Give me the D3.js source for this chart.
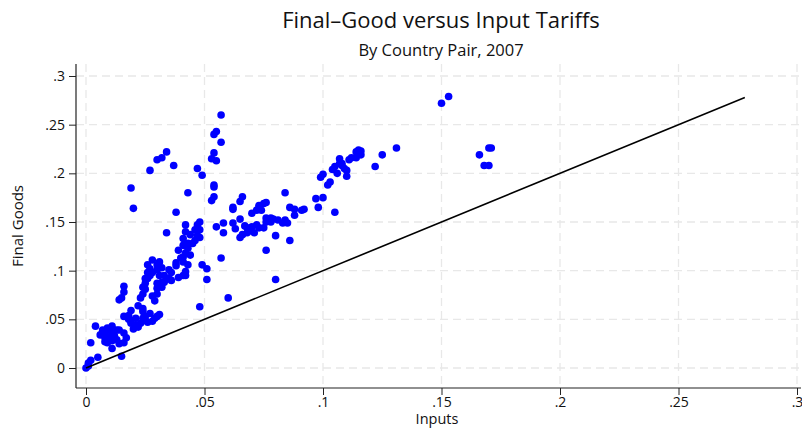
<!DOCTYPE html>
<html><head><meta charset="utf-8">
<script src="https://cdn.jsdelivr.net/npm/d3@7"></script>
<style>body{margin:0;background:#fff}svg{display:block}text{font-family:"Open Sans","Noto Sans",sans-serif;fill:#111}</style>
</head><body><div id="chart"></div>
<script>
const title = "Final\u2013Good versus Input Tariffs";
const subtitle = "By Country Pair, 2007";
const xLabel = "Inputs";
const yLabel = "Final Goods";
const xTicks = [0, .05, .1, .15, .2, .25, .3];
const yTicks = [0, .05, .1, .15, .2, .25, .3];
const xTickLabels = ["0", ".05", ".1", ".15", ".2", ".25", ".3"];
const yTickLabels = ["0", ".05", ".1", ".15", ".2", ".25", ".3"];
const refLine = [[0, 0], [0.278, 0.278]];
const inputs = [
0.000,0.001,0.001,0.002,0.002,0.004,0.005,0.007,0.008,0.008,0.008,0.008,0.009,0.010,0.011,0.011,0.011,0.013,0.013,0.014,0.015,0.016,0.017,0.010,0.011,
0.014,0.015,0.016,0.016,0.016,0.018,0.019,0.020,0.022,0.023,0.025,0.026,0.028,0.029,0.030,0.031,0.021,0.018,0.019,
0.022,0.024,0.024,0.023,0.024,0.024,0.025,0.025,0.026,0.026,0.027,0.028,0.028,0.026,0.027,0.030,0.030,0.030,0.031,0.032,0.033,0.032,0.033,0.035,0.036,0.035,
0.038,0.039,0.041,0.041,0.042,0.041,0.041,0.043,0.044,0.034,0.042,0.047,0.048,0.046,0.047,0.045,0.048,0.041,0.042,0.042,0.048,0.049,0.051,0.051,0.057,0.060,
0.038,0.043,0.019,0.020,0.027,0.030,0.032,0.034,0.037,0.047,0.049,0.054,0.054,0.053,0.054,0.054,0.053,0.055,0.054,0.055,0.057,0.057,0.043,
0.055,0.058,0.058,0.062,0.065,0.062,0.062,0.066,0.065,0.070,0.073,0.073,0.075,0.076,0.072,0.084,0.086,0.088,0.088,0.091,
0.065,0.066,0.068,0.069,0.070,0.072,0.073,0.075,0.076,0.076,0.078,0.079,0.080,0.083,0.084,0.085,0.086,0.076,0.080,0.071,0.068,
0.092,0.097,0.100,0.098,0.105,0.099,0.100,0.103,0.104,0.105,0.107,0.107,0.108,0.109,0.106,0.110,0.112,0.114,0.115,0.116,0.114,0.108,0.122,0.125,0.131,0.116,
0.150,0.153,0.166,0.170,0.171,0.168,0.170,
0.006,0.009,0.012,0.014,0.016,0.019,0.021,0.024,0.025,0.027,0.029,0.028,0.030,0.025,0.030,0.031,0.032,0.038,0.040,0.043,0.044,0.039,0.036,0.046,0.042,0.048,
0.078,0.081,0.067,0.063,0.074,0.111,0.110,0.102
];
const finalGoods = [
0.000,0.002,0.005,0.008,0.026,0.043,0.011,0.039,0.037,0.031,0.034,0.027,0.026,0.032,0.020,0.043,0.036,0.039,0.029,0.039,0.012,0.026,0.031,0.039,0.028,
0.070,0.072,0.084,0.078,0.053,0.050,0.046,0.040,0.042,0.046,0.049,0.047,0.048,0.051,0.053,0.055,0.044,0.054,0.059,
0.064,0.061,0.058,0.072,0.076,0.083,0.087,0.081,0.092,0.098,0.095,0.098,0.111,0.106,0.102,0.076,0.082,0.101,0.095,0.088,0.088,0.083,0.095,0.101,0.098,0.092,
0.108,0.121,0.114,0.109,0.118,0.133,0.126,0.128,0.137,0.139,0.147,0.147,0.150,0.131,0.136,0.128,0.142,0.095,0.099,0.095,0.063,0.106,0.102,0.091,0.113,0.072,
0.160,0.180,0.185,0.164,0.203,0.214,0.216,0.222,0.208,0.205,0.198,0.188,0.186,0.172,0.176,0.221,0.215,0.213,0.240,0.243,0.232,0.260,0.123,
0.145,0.149,0.139,0.149,0.153,0.165,0.163,0.176,0.171,0.159,0.165,0.167,0.169,0.170,0.162,0.180,0.165,0.163,0.157,0.162,
0.134,0.137,0.139,0.141,0.145,0.147,0.144,0.144,0.154,0.150,0.154,0.153,0.136,0.149,0.152,0.149,0.131,0.121,0.091,0.139,0.144,
0.163,0.174,0.175,0.165,0.160,0.196,0.199,0.191,0.204,0.207,0.215,0.210,0.210,0.205,0.200,0.197,0.216,0.222,0.224,0.223,0.216,0.208,0.207,0.219,0.226,0.219,
0.272,0.279,0.219,0.226,0.226,0.208,0.208,
0.034,0.041,0.033,0.025,0.036,0.049,0.051,0.051,0.053,0.056,0.069,0.074,0.087,0.092,0.106,0.109,0.103,0.105,0.113,0.106,0.116,0.093,0.090,0.142,0.140,0.134,
0.150,0.152,0.146,0.143,0.162,0.214,0.203,0.188
];
const points = inputs.map((v, i) => ({x: v, y: finalGoods[i]}));

const W = 802, H = 429;
const svg = d3.select("#chart").append("svg").attr("width", W).attr("height", H);
const x = d3.scaleLinear().domain([0, 0.3]).range([86, 797]);
const y = d3.scaleLinear().domain([0, 0.3]).range([368, 76]);
const plotL = 76, plotR = 801, plotT = 64, plotB = 388;

// grid
svg.append("g").selectAll("line").data(yTicks).join("line")
  .attr("x1", plotL).attr("x2", plotR).attr("y1", d => y(d)).attr("y2", d => y(d))
  .attr("stroke", "#e8e8e8").attr("stroke-width", 1.3).attr("stroke-dasharray", "8,5");
svg.append("g").selectAll("line").data(xTicks).join("line")
  .attr("y1", plotT).attr("y2", plotB).attr("x1", d => x(d)).attr("x2", d => x(d))
  .attr("stroke", "#e8e8e8").attr("stroke-width", 1.3).attr("stroke-dasharray", "8,5");

// axes
const yAxis = d3.axisLeft(y).tickValues(yTicks).tickFormat((d, i) => yTickLabels[i]).tickSize(7).tickPadding(4);
const gy = svg.append("g").attr("transform", `translate(${plotL},0)`).call(yAxis);
gy.select(".domain").remove();
const xAxis = d3.axisBottom(x).tickValues(xTicks).tickFormat((d, i) => xTickLabels[i]).tickSize(7).tickPadding(2);
const gx = svg.append("g").attr("transform", `translate(0,${plotB})`).call(xAxis);
gx.select(".domain").remove();
[gx, gy].forEach(g => {
  g.selectAll("text").style("font-size", "14px").attr("fill", "#111");
  g.selectAll(".tick line").attr("stroke", "#222").attr("stroke-width", 1);
});
svg.append("line").attr("x1", plotL).attr("x2", plotL).attr("y1", plotT).attr("y2", plotB).attr("stroke", "#222").attr("stroke-width", 1.2);
svg.append("line").attr("x1", plotL).attr("x2", plotR).attr("y1", plotB).attr("y2", plotB).attr("stroke", "#222").attr("stroke-width", 1.2);

// points
svg.append("g").selectAll("circle").data(points).join("circle")
  .attr("cx", d => x(d.x)).attr("cy", d => y(d.y)).attr("r", 3.8).attr("fill", "#0000ff");

// reference line
svg.append("path").datum(refLine)
  .attr("d", d3.line().x(d => x(d[0])).y(d => y(d[1])))
  .attr("stroke", "#000").attr("stroke-width", 1.6).attr("fill", "none");

// titles
svg.append("text").attr("x", 441).attr("y", 28).attr("text-anchor", "middle").style("font-size", "22px").text(title);
svg.append("text").attr("x", 441).attr("y", 56).attr("text-anchor", "middle").style("font-size", "16.5px").text(subtitle);
svg.append("text").attr("x", 437).attr("y", 424).attr("text-anchor", "middle").style("font-size", "14.5px").text(xLabel);
svg.append("text").attr("transform", "translate(23,226) rotate(-90)").attr("text-anchor", "middle").style("font-size", "15px").text(yLabel);
</script></body></html>
